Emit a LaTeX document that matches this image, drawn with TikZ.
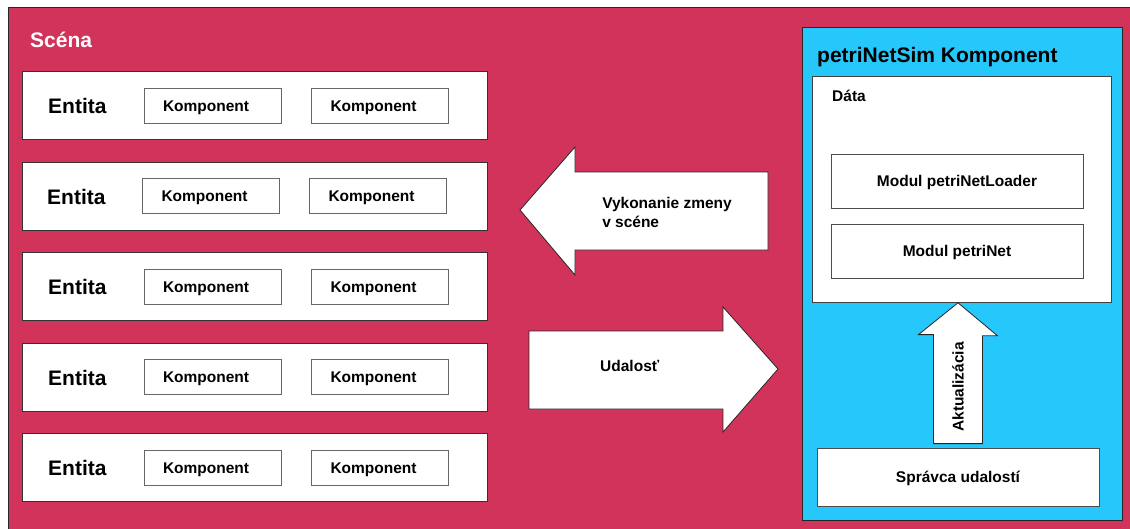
\documentclass[tikz,border=0pt]{standalone}
\usepackage{fontspec}
\setmainfont{Liberation Sans}
\usepackage{xcolor}
\usetikzlibrary{positioning, calc}
\definecolor{scenered}{RGB}{210,51,90}
\definecolor{simblue}{RGB}{38,199,250}

\begin{document}
\begin{tikzpicture}[
  x=1pt, y=-1pt,
  scenebox/.style={rectangle, draw=black!85, fill=scenered, line width=0.9pt},
  entitybox/.style={rectangle, draw=black!80, fill=white, line width=0.8pt,
                    minimum width=465pt, minimum height=68pt},
  modbox/.style={rectangle, draw=black!70, fill=white, line width=0.8pt,
                 minimum width=252pt, minimum height=54pt, inner sep=0pt,
                 text height=11pt, text depth=0pt,
                 font=\bfseries\fontsize{15.5}{19}\selectfont},
  compbox/.style={modbox, draw=black!60, minimum width=137pt, minimum height=35pt,
                  text width=99pt, inner xsep=19pt, align=left},
  simbox/.style={rectangle, draw=black!85, fill=simblue, line width=0.9pt},
  databox/.style={rectangle, draw=black!75, fill=white, line width=0.8pt},
  entlabel/.style={anchor=base west, inner sep=0pt,
                   font=\bfseries\fontsize{21}{25}\selectfont},
  lbl/.style={inner sep=0pt, font=\bfseries\fontsize{15.5}{19}\selectfont},
  blockarrow/.style={draw=black!85, fill=white, line width=0.8pt, line join=miter}
]
\useasboundingbox (0,0) rectangle (1130,528);
\fill[white] (0,0) rectangle (1130,528);
\clip (0,0) rectangle (1130,528);

% scene
\node[scenebox, anchor=north west, minimum width=1135pt, minimum height=535pt] (scene) at (8,7) {};
\node[entlabel, text=white] (scenatxt) at (30,47) {Scéna};

% entities
\node[entitybox] (e1) at (255,105) {};
\node[entlabel] (e1lab) at (48,113) {Entita};
\node[compbox] (e1k1) at (212.5,105.5) {Komponent};
\node[compbox] (e1k2) at (380,105.5) {Komponent};

\node[entitybox] (e2) at (254.5,196) {};
\node[entlabel] (e2lab) at (47,204) {Entita};
\node[compbox] (e2k1) at (211,196) {Komponent};
\node[compbox] (e2k2) at (378,196) {Komponent};

\node[entitybox] (e3) at (255,286.5) {};
\node[entlabel] (e3lab) at (48,294.5) {Entita};
\node[compbox] (e3k1) at (212.5,286.5) {Komponent};
\node[compbox] (e3k2) at (380,286.5) {Komponent};

\node[entitybox] (e4) at (255,377) {};
\node[entlabel] (e4lab) at (48,385) {Entita};
\node[compbox] (e4k1) at (212.5,377) {Komponent};
\node[compbox] (e4k2) at (380,377) {Komponent};

\node[entitybox] (e5) at (255,467.5) {};
\node[entlabel] (e5lab) at (48,475.5) {Entita};
\node[compbox] (e5k1) at (212.5,468) {Komponent};
\node[compbox] (e5k2) at (380,468) {Komponent};

% petriNetSim component
\node[simbox, anchor=north west, minimum width=320pt, minimum height=493pt] (sim) at (802,27) {};
\node[entlabel] (simtxt) at (817,62) {petriNetSim Komponent};
\node[databox, anchor=north west, minimum width=299pt, minimum height=226pt] (data) at (812,76) {};
\node[lbl, anchor=base west] (datatxt) at (832,101) {Dáta};
\node[modbox] (loader) at (957,181) {Modul petriNetLoader};
\node[modbox] (petrinet) at (957,251) {Modul petriNet};
\node[modbox, minimum width=282pt, minimum height=58pt] (spravca) at (958,477) {Správca udalostí};

% update arrow
\draw[blockarrow] ([xshift=-24.5pt,yshift=4pt]spravca.north) -- ++(0,-109) -- ++(-15,0)
  -- (spravca.north |- data.south) -- ++(39.5,33) -- ++(-15,0)
  -- ([xshift=24.5pt,yshift=4pt]spravca.north) -- cycle;
\node[lbl, rotate=90] (akttxt) at (958,387) {Aktualizácia};

% big arrows between scene and component
\coordinate (chg) at (520,210);
\draw[blockarrow] (chg) -- ++(55,-63) -- ++(0,25) -- ++(193,0) -- ++(0,78)
  -- ++(-193,0) -- ++(0,25) -- cycle;
\node[lbl, align=left] (chgtxt) at (667,212) {Vykonanie zmeny\\v scéne};

\coordinate (evt) at (778,369);
\draw[blockarrow] (evt) -- ++(-55,-62) -- ++(0,24) -- ++(-194,0) -- ++(0,78)
  -- ++(194,0) -- ++(0,23) -- cycle;
\node[lbl, anchor=west] (evttxt) at (600,366) {Udalosť};
\end{tikzpicture}
\end{document}
